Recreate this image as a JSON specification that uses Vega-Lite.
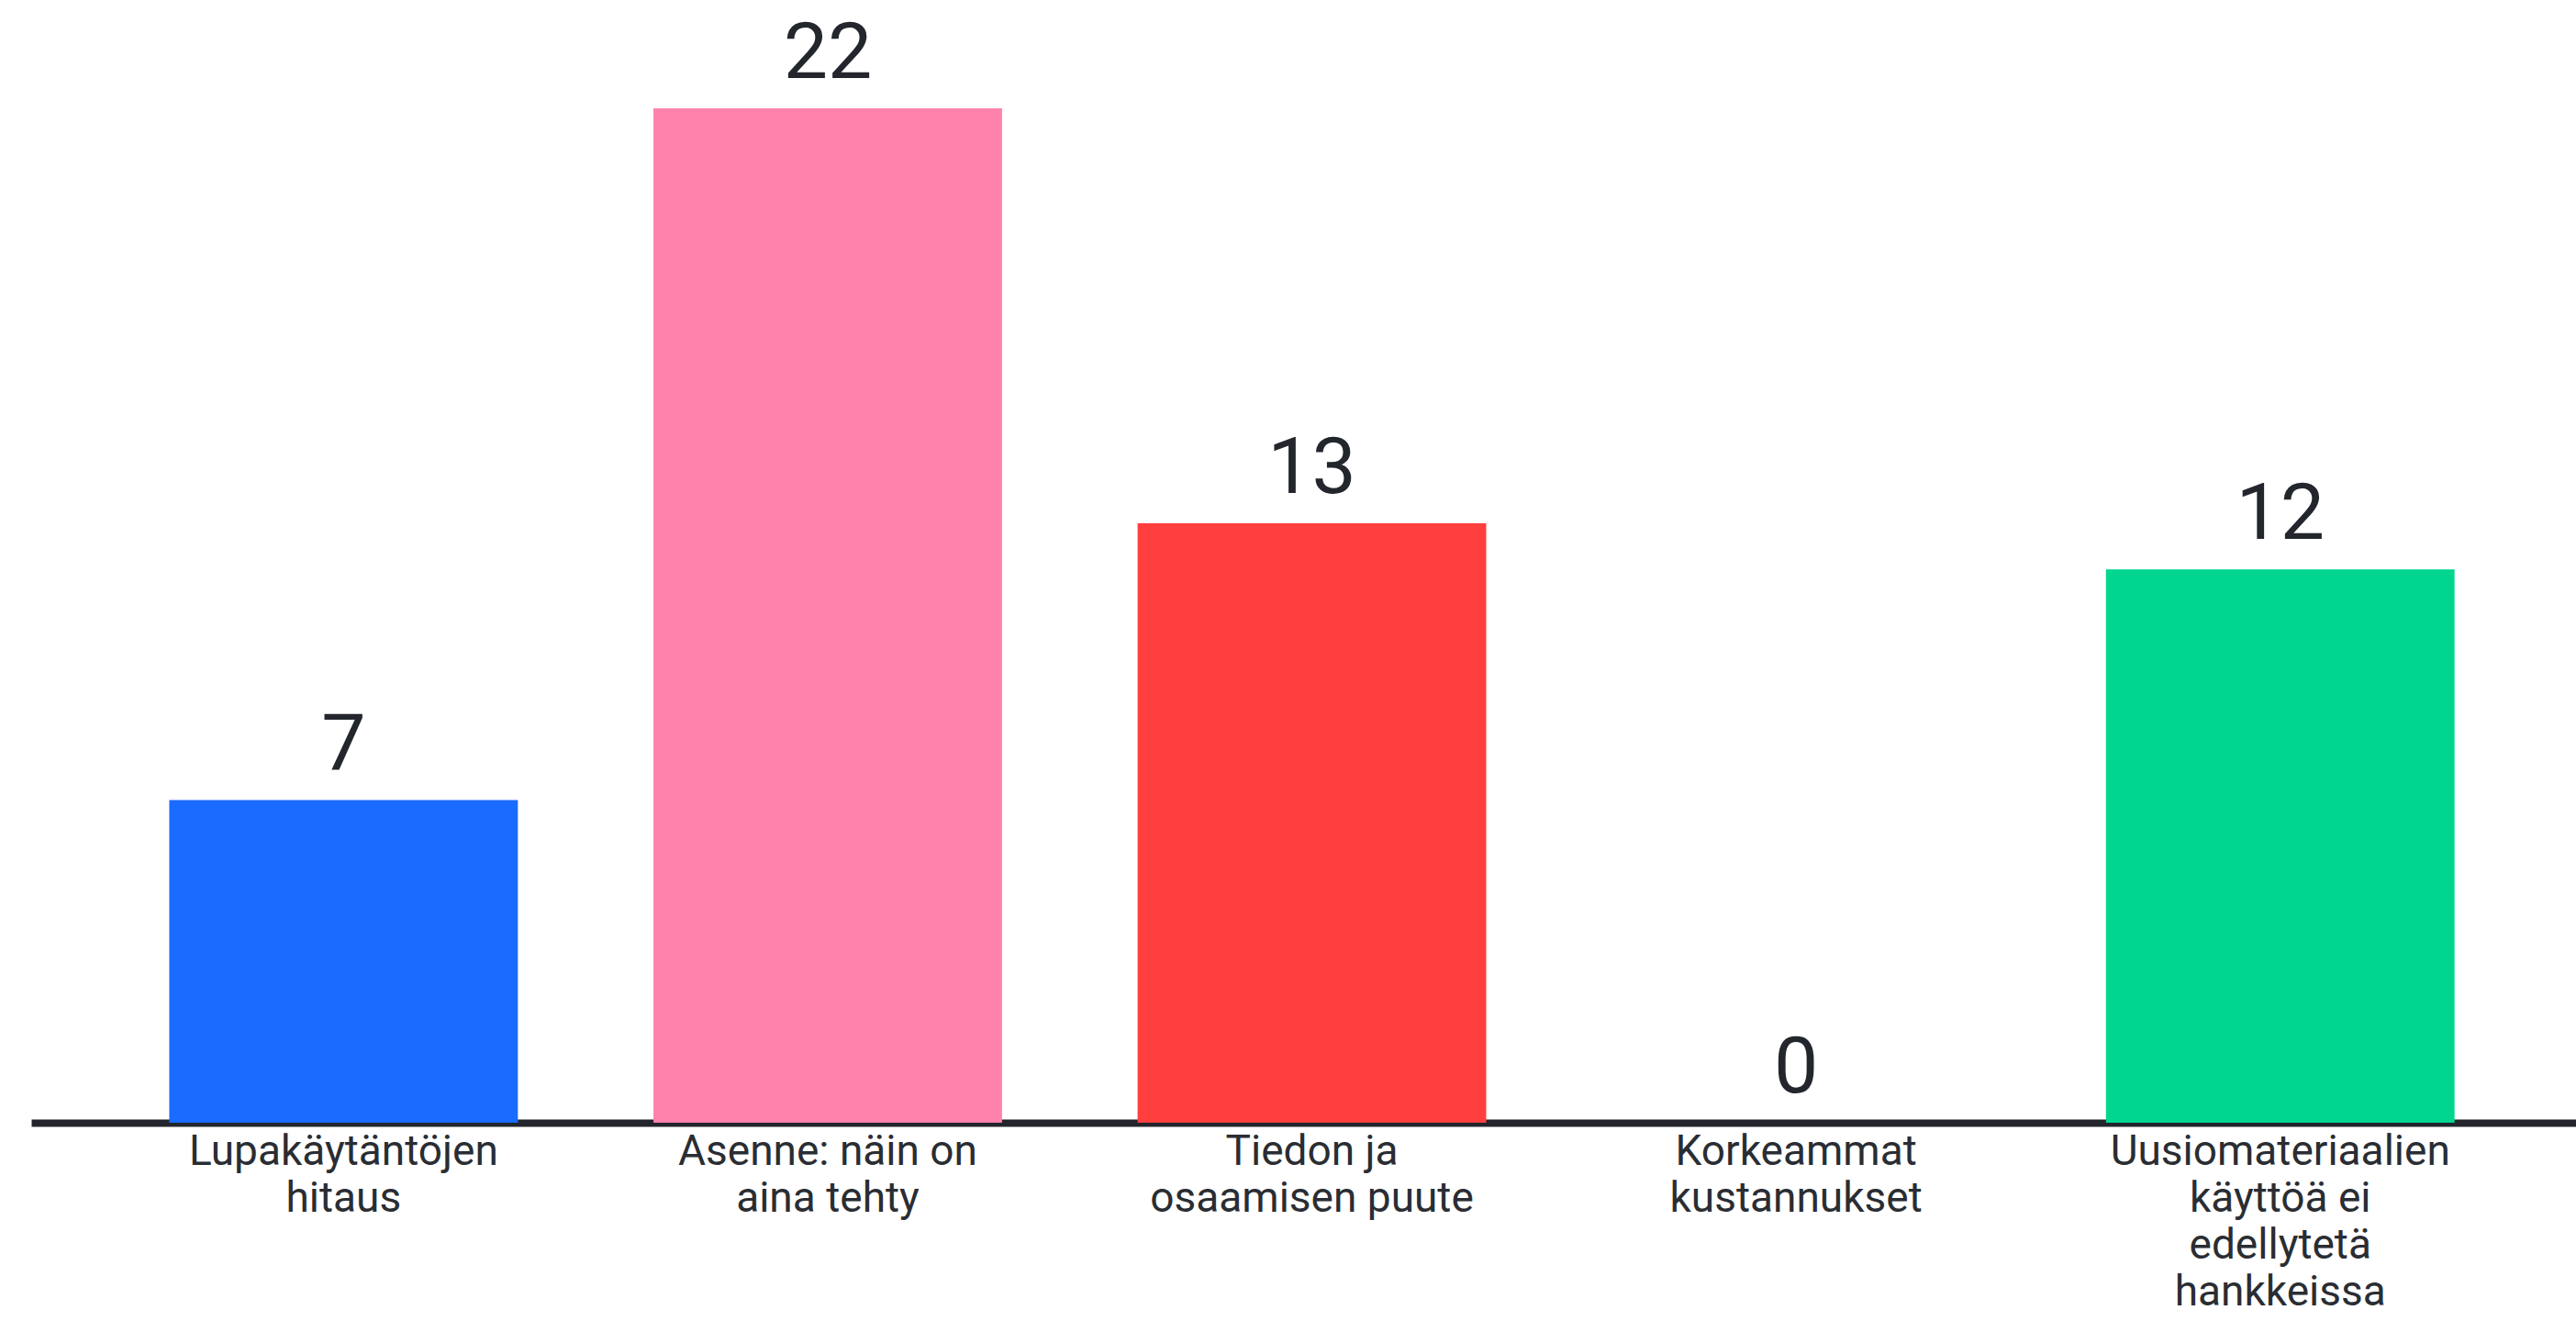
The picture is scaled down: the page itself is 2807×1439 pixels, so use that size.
{
  "$schema": "https://vega.github.io/schema/vega-lite/v6.json",
  "width": 2773,
  "height": 1223,
  "autosize": {"type": "none"},
  "padding": {"left": 34, "top": 0, "right": 0, "bottom": 216},
  "background": "white",
  "config": {"view": {"stroke": null}, "font": "Roboto", "axis": {"domainWidth": 8, "domainColor": "#22252c"}},
  "data": {
    "values": [
      {"kategoria": "Lupakäytäntöjen|hitaus", "arvo": 7, "vari": "#1A6BFF"},
      {"kategoria": "Asenne: näin on|aina tehty", "arvo": 22, "vari": "#FF82AC"},
      {"kategoria": "Tiedon ja|osaamisen puute", "arvo": 13, "vari": "#FF3F3D"},
      {"kategoria": "Korkeammat|kustannukset", "arvo": 0, "vari": "#FFFFFF"},
      {"kategoria": "Uusiomateriaalien|käyttöä ei|edellytetä|hankkeissa", "arvo": 12, "vari": "#00D68F"}
    ]
  },
  "encoding": {
    "x": {
      "field": "kategoria",
      "type": "nominal",
      "sort": null,
      "scale": {"paddingInner": 0.28, "paddingOuter": 0.268, "align": 0.532},
      "axis": {
        "title": null,
        "labelAngle": 0,
        "labelExpr": "split(datum.label, '|')",
        "labelFontSize": 46,
        "labelLineHeight": 51,
        "labelColor": "#2a2d33",
        "labelPadding": 9,
        "labelLimit": 0,
        "ticks": false,
        "domainColor": "#22252c",
        "domainWidth": 8,
        "labelBaseline": "top"
      }
    },
    "y": {
      "field": "arvo",
      "type": "quantitative",
      "scale": {"domain": [0, 24.35], "nice": false},
      "axis": null
    }
  },
  "layer": [
    {
      "mark": {"type": "bar"},
      "encoding": {"color": {"field": "vari", "type": "nominal", "scale": null, "legend": null}}
    },
    {
      "mark": {"type": "text", "baseline": "alphabetic", "dy": -33, "fontSize": 86, "color": "#23262d"},
      "encoding": {"text": {"field": "arvo", "type": "quantitative"}}
    }
  ]
}
